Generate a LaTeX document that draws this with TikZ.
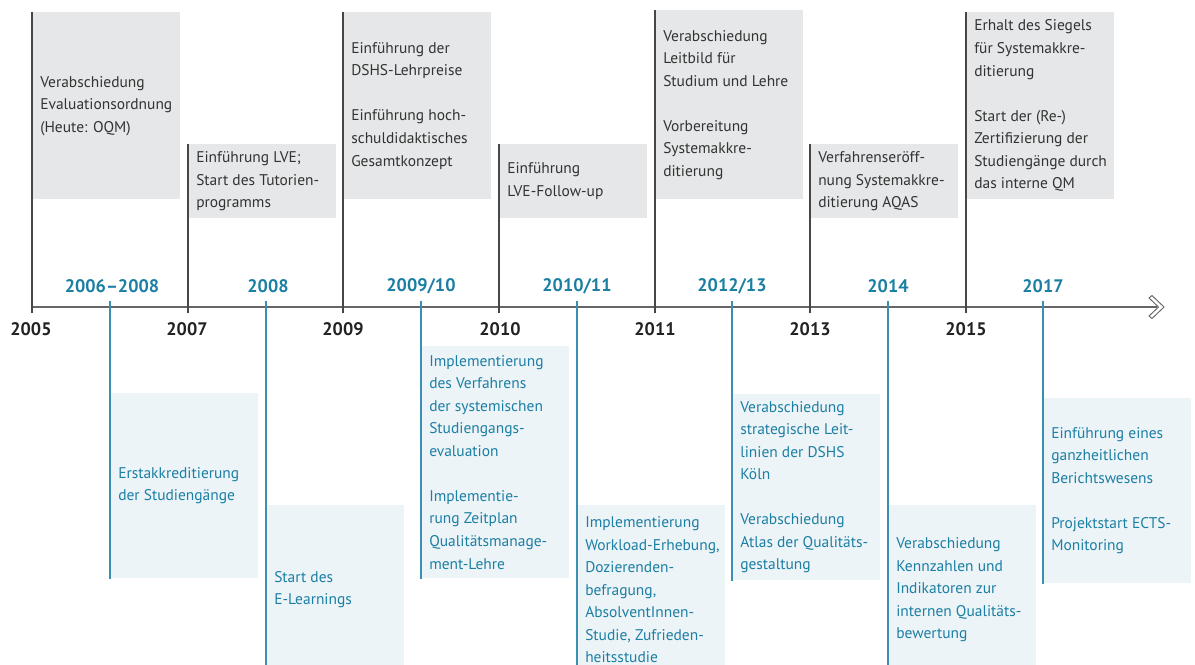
\documentclass[tikz,border=0pt]{standalone}
\usepackage{fontspec}
\setmainfont{PT Sans}
\definecolor{boxgray}{HTML}{E6E7E8}
\definecolor{boxblue}{HTML}{EDF4F8}
\definecolor{txtgray}{HTML}{333333}
\definecolor{tealblue}{HTML}{1B7FA3}
\definecolor{tickblue}{HTML}{3A8FB3}
\definecolor{axisgray}{HTML}{666666}
\definecolor{yeardark}{HTML}{222222}
\begin{document}
\begin{tikzpicture}[x=0.75pt,y=-0.75pt,
  gbox/.style={anchor=north west, fill=boxgray, draw=none, inner sep=0pt, minimum width=111pt, minimum height=#1},
  bbox/.style={anchor=north west, fill=boxblue, draw=none, inner sep=0pt, minimum width=111pt, minimum height=#1},
  gtext/.style={anchor=west, inner sep=0pt, xshift=6pt, align=left, text=txtgray, font=\fontsize{11.6pt}{16.9pt}\selectfont},
  btext/.style={gtext, text=tealblue},
  darktick/.style={draw=txtgray!90, line width=0.9pt},
  bluetick/.style={draw=tickblue, line width=0.9pt},
  yearlbl/.style={font=\fontsize{13.6pt}{16pt}\selectfont\bfseries, text=yeardark, inner sep=0pt},
  periodlbl/.style={font=\fontsize{13.6pt}{16pt}\selectfont\bfseries, text=tealblue, inner sep=0pt},
]
\useasboundingbox (0,0) rectangle (1195,664);
\clip (0,0) rectangle (1195,664);

% ---------- top boxes ----------
\node[gbox=140.25pt] (A) at (32,12) {};
\node[gbox=55.5pt]   (B) at (188,144) {};
\node[gbox=140.25pt] (C) at (343,12) {};
\node[gbox=55.5pt]   (D) at (499,144) {};
\node[gbox=141.75pt] (E) at (655,10) {};
\node[gbox=55.5pt]   (F) at (810,144) {};
\node[gbox=140.25pt] (G) at (966,12) {};

\node[gtext] (tA) at (A.west) {Verabschiedung\\Evaluationsordnung\\(Heute: OQM)};
\node[gtext] (tB) at (B.west) {Einführung LVE;\\Start des Tutorien-\\programms};
\node[gtext] (tC) at (C.west) {Einführung der\\DSHS-Lehrpreise\\[16.9pt]Einführung hoch-\\schuldidaktisches\\Gesamtkonzept};
\node[gtext] (tD) at (D.west) {Einführung\\LVE-Follow-up};
\node[gtext] (tE) at (E.west) {Verabschiedung\\Leitbild für\\Studium und Lehre\\[16.9pt]Vorbereitung\\Systemakkre-\\ditierung};
\node[gtext] (tF) at (F.west) {Verfahrenseröff-\\nung Systemakkre-\\ditierung AQAS};
\node[gtext] (tG) at (G.west) {Erhalt des Siegels\\für Systemakkre-\\ditierung\\[16.9pt]Start der (Re-)\\Zertifizierung der\\Studiengänge durch\\das interne QM};

% ---------- bottom boxes ----------
\node[bbox=138.75pt] (H) at (110,393) {};
\node[bbox=126.75pt, minimum width=103.5pt] (I) at (266,505) {};
\node[bbox=174pt]    (J) at (421,346) {};
\node[bbox=126.75pt] (K) at (577,505) {};
\node[bbox=139.5pt]  (L) at (732,394) {};
\node[bbox=126.75pt] (M) at (888,505) {};
\node[bbox=138.75pt] (N) at (1043,398) {};

\node[btext] (tH) at (H.west) {Erstakkreditierung\\der Studiengänge};
\node[btext] (tI) at (I.west) {Start des\\E-Learnings};
\node[btext] (tJ) at (J.west) {Implementierung\\des Verfahrens\\der systemischen\\Studiengangs-\\evaluation\\[16.9pt]Implementie-\\rung Zeitplan\\Qualitätsmanage-\\ment-Lehre};
\node[btext] (tK) at (K.west) {Implementierung\\Workload-Erhebung,\\Dozierenden-\\befragung,\\AbsolventInnen-\\Studie, Zufrieden-\\heitsstudie};
\node[btext] (tL) at (L.west) {Verabschiedung\\strategische Leit-\\linien der DSHS\\Köln\\[16.9pt]Verabschiedung\\Atlas der Qualitäts-\\gestaltung};
\node[btext] (tM) at (M.west) {Verabschiedung\\Kennzahlen und\\Indikatoren zur\\internen Qualitäts-\\bewertung};
\node[btext] (tN) at (N.west) {Einführung eines\\ganzheitlichen\\Berichtswesens\\[16.9pt]Projektstart ECTS-\\Monitoring};

% ---------- axis ----------
\coordinate (axstart) at (32,307);
\coordinate (axend) at (1157,307);
\draw[draw=axisgray, line width=1.5pt] (axstart) -- (axend);
\draw[draw=axisgray, line width=0.7pt, line join=miter]
  (1149,298) -- (1152,295.5) -- (1164,307) -- (1152,318.5) -- (1149,316) -- (1158.5,307) -- cycle;

% ---------- dark ticks (top) ----------
\foreach \n/\x in {A/32,B/188,C/343,D/499,E/655,F/810,G/966}{
  \coordinate (d\n) at (\x,313);
  \draw[darktick] (d\n) -- (\n.north west);
}
% ---------- blue ticks (bottom) ----------
\foreach \n/\x in {H/110,I/266,J/421,K/577,L/732,M/888,N/1043}{
  \coordinate (b\n) at (\x,301);
  \draw[bluetick] (b\n) -- (\n.south west);
}

% ---------- year labels ----------
\node[yearlbl] (y2005) at (31,329) {2005};
\node[yearlbl] (y2007) at (187,329) {2007};
\node[yearlbl] (y2009) at (343,329) {2009};
\node[yearlbl] (y2010) at (500,329) {2010};
\node[yearlbl] (y2011) at (655,329) {2011};
\node[yearlbl] (y2013) at (810,329) {2013};
\node[yearlbl] (y2015) at (966,329) {2015};

\node[periodlbl] (p1) at (112,286) {2006–2008};
\node[periodlbl] (p2) at (268,286) {2008};
\node[periodlbl] (p3) at (421,286) {2009/10};
\node[periodlbl] (p4) at (577,286) {2010/11};
\node[periodlbl] (p5) at (732,286) {2012/13};
\node[periodlbl] (p6) at (888,286) {2014};
\node[periodlbl] (p7) at (1043,286) {2017};
\end{tikzpicture}
\end{document}
